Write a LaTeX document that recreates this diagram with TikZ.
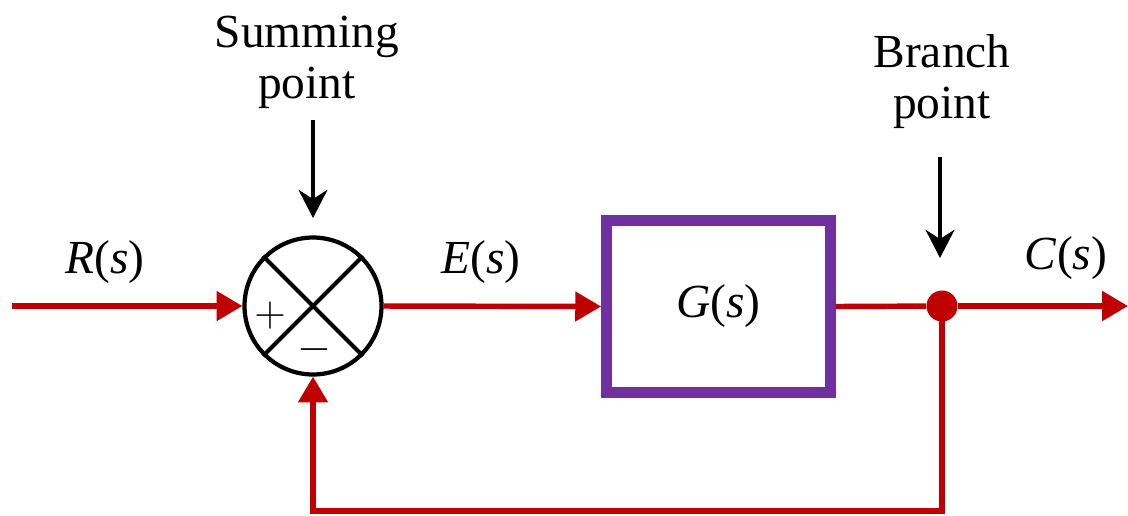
\documentclass[tikz,border=0pt]{standalone}
\usepackage{fontspec}
\setmainfont{Liberation Serif}
\usepackage{xcolor}
\usetikzlibrary{arrows.meta}

\definecolor{sigred}{HTML}{C00000}
\definecolor{blockpurple}{HTML}{7030A0}
\newcommand{\tfn}[1]{\textit{#1}(\textit{s})}

\begin{document}
\begin{tikzpicture}[x=0.02cm, y=-0.02cm, font=\fontsize{27}{29}\selectfont,
    sigline/.style={draw=sigred, line width=3.1pt, -{Triangle[length=14.7pt, width=16.4pt]}},
    pointer/.style={draw=black, line width=2.6pt, -{Stealth[length=16pt, width=16.4pt]}}]
  % 1 unit = 1 px of the reference
  \useasboundingbox (0,0) rectangle (1128,515);

  % blocks
  \node[circle, draw, line width=2.4pt, minimum size=2.74cm, inner sep=0pt] (sum) at (313,306) {};
  \draw[line width=2.4pt] (sum.north west) -- (sum.south east);
  \draw[line width=2.4pt] (sum.south west) -- (sum.north east);
  \node at (270,316) {$+$};
  \node at (314,350) {$-$};
  \node[draw=blockpurple, line width=6.2pt, minimum width=4.48cm, minimum height=3.44cm] (G) at (718.5,306.5) {\tfn{G}};
  \node[circle, fill=sigred, minimum size=0.62cm, inner sep=0pt] (branch) at (942,306) {};

  % signals
  \coordinate (rin) at (12,306);
  \coordinate (cout) at (1128,306);
  \coordinate (fbcorner) at (942,511);
  \draw[sigline] (rin) -- (sum.west);
  \draw[sigline] (sum.east) -- (G.west);
  \draw[sigline, -] (G.east) -- (branch);
  \draw[sigline] (branch) -- (cout);
  \draw[sigline, line cap=rect] (branch.center) -- (fbcorner) -| (sum.south);

  \node (rlabel) at (105,262) {\tfn{R}};
  \node (elabel) at (481,262) {\tfn{E}};
  \node (clabel) at (1066,258) {\tfn{C}};

  % annotations
  \node[align=center] (sumtext) at (307,62) {Summing\\point};
  \coordinate (sumtip) at (313,218);
  \draw[pointer] (313,120) -- (sumtip);
  \node[align=center] (brtext) at (942,82) {Branch\\point};
  \coordinate (brtip) at (940,258);
  \draw[pointer] (940,157) -- (brtip);
\end{tikzpicture}
\end{document}
